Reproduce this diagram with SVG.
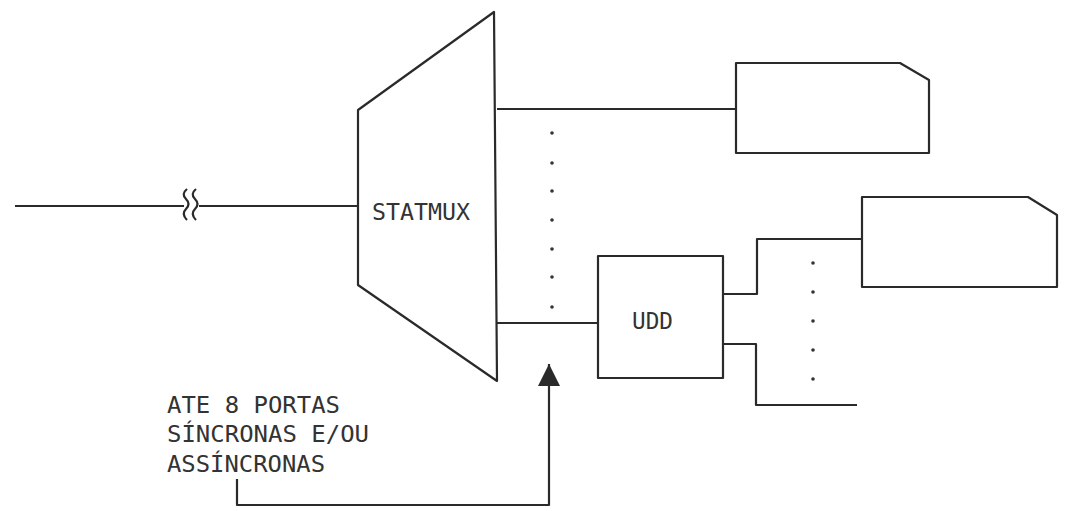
<svg xmlns="http://www.w3.org/2000/svg" width="1069" height="511" viewBox="0 0 1069 511">
<style>
.ln{fill:none;stroke:#2a2a2a;stroke-width:2.2;stroke-linejoin:round}
.nd{fill:#fff;stroke:#2a2a2a;stroke-width:2.2;stroke-linejoin:round}
.t{font-family:"DejaVu Sans Mono","Liberation Mono",monospace;font-size:23px;fill:#333}
.dot{fill:#333}
</style>
<defs>
<marker id="ah" markerWidth="24" markerHeight="22" refX="22" refY="11" orient="auto" markerUnits="userSpaceOnUse">
<path d="M0,0 L22,11 L0,22 Z" fill="#2a2a2a"/>
</marker>
</defs>
<rect width="1069" height="511" fill="#fff"/>
<g id="connectors">
<path class="ln" d="M15,206 H184"/>
<path class="ln" d="M199,206 H358"/>
<path class="ln" d="M187,189 q-6,5 -1,10 q5,5 0,10 q-5,5 1,11 M196,189 q-6,5 -1,10 q5,5 0,10 q-5,5 1,11" stroke-width="1.8"/>
<path class="ln" d="M497,109 H736"/>
<path class="ln" d="M497,323 H598"/>
<path class="ln" d="M723,294 H757 V239 H862"/>
<path class="ln" d="M723,344 H756 V405 H857"/>
<path class="ln" d="M237,479 V505 H549 V364" marker-end="url(#ah)"/>
<g class="dot">
<circle cx="552" cy="133" r="1.8"/><circle cx="552" cy="163" r="1.8"/><circle cx="552" cy="191" r="1.8"/><circle cx="552" cy="220" r="1.8"/><circle cx="552" cy="249" r="1.8"/><circle cx="552" cy="277" r="1.8"/><circle cx="552" cy="307" r="1.8"/>
<circle cx="813" cy="263" r="1.8"/><circle cx="813" cy="292" r="1.8"/><circle cx="813" cy="321" r="1.8"/><circle cx="813" cy="350" r="1.8"/><circle cx="813" cy="379" r="1.8"/>
</g>
</g>
<g id="statmux">
<path class="nd" d="M358,110 L494,12 L497,381 L358,285 Z"/>
<text class="t" x="372" y="220" textLength="98" lengthAdjust="spacingAndGlyphs">STATMUX</text>
</g>
<g id="terminal1">
<path class="nd" d="M736,63 H900 L929,80 V153 H736 Z"/>
</g>
<g id="udd">
<rect class="nd" x="598" y="256" width="125" height="122"/>
<text class="t" x="632" y="329" textLength="41" lengthAdjust="spacingAndGlyphs">UDD</text>
</g>
<g id="terminal2">
<path class="nd" d="M862,197 H1028 L1057,215 V287 H862 Z"/>
</g>
<g id="label">
<text class="t" x="167" y="413" textLength="173" lengthAdjust="spacingAndGlyphs">ATE 8 PORTAS</text>
<text class="t" x="167" y="442" textLength="202" lengthAdjust="spacingAndGlyphs">SÍNCRONAS E/OU</text>
<text class="t" x="167" y="472" textLength="158" lengthAdjust="spacingAndGlyphs">ASSÍNCRONAS</text>
</g>
</svg>
